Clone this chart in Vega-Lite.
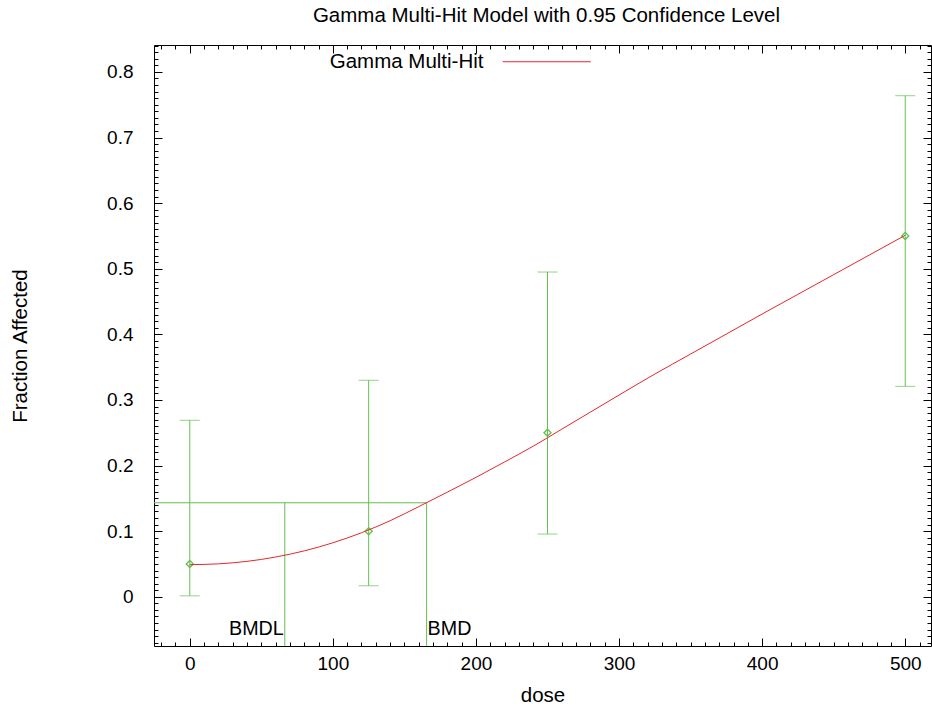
{
  "$schema": "https://vega.github.io/schema/vega-lite/v6.json",
  "width": 777,
  "height": 601,
  "autosize": {"type": "none"},
  "padding": {"left": 154, "top": 45, "right": 1, "bottom": 61},
  "background": "white",
  "config": {
    "view": {"stroke": "#000", "strokeWidth": 1},
    "font": "Liberation Sans",
    "axis": {"domain": false, "grid": false, "tickColor": "#000", "tickWidth": 1, "labelColor": "#000", "labelFont": "Liberation Sans", "labelFontSize": 19, "titleFont": "Liberation Sans", "titleFontSize": 20.5, "titleFontWeight": "normal", "titleColor": "#000", "labelFlush": false, "labelOverlap": false}
  },
  "datasets": {
    "obs": [
      {"dose": 0, "frac": 0.05, "lo": 0.0015, "hi": 0.269},
      {"dose": 125, "frac": 0.1, "lo": 0.0168, "hi": 0.330},
      {"dose": 250, "frac": 0.25, "lo": 0.0956, "hi": 0.495},
      {"dose": 500, "frac": 0.55, "lo": 0.3207, "hi": 0.7637}
    ],
    "curve": [
      {"dose": 0, "frac": 0.049, "series": "Gamma Multi-Hit"},
      {"dose": 20, "frac": 0.0502, "series": "Gamma Multi-Hit"},
      {"dose": 40, "frac": 0.054, "series": "Gamma Multi-Hit"},
      {"dose": 60, "frac": 0.0606, "series": "Gamma Multi-Hit"},
      {"dose": 80, "frac": 0.070, "series": "Gamma Multi-Hit"},
      {"dose": 100, "frac": 0.0823, "series": "Gamma Multi-Hit"},
      {"dose": 120, "frac": 0.0976, "series": "Gamma Multi-Hit"},
      {"dose": 140, "frac": 0.1159, "series": "Gamma Multi-Hit"},
      {"dose": 160, "frac": 0.1374, "series": "Gamma Multi-Hit"},
      {"dose": 180, "frac": 0.1595, "series": "Gamma Multi-Hit"},
      {"dose": 200, "frac": 0.182, "series": "Gamma Multi-Hit"},
      {"dose": 220, "frac": 0.2055, "series": "Gamma Multi-Hit"},
      {"dose": 240, "frac": 0.2295, "series": "Gamma Multi-Hit"},
      {"dose": 260, "frac": 0.2555, "series": "Gamma Multi-Hit"},
      {"dose": 280, "frac": 0.2815, "series": "Gamma Multi-Hit"},
      {"dose": 300, "frac": 0.3075, "series": "Gamma Multi-Hit"},
      {"dose": 325, "frac": 0.3395, "series": "Gamma Multi-Hit"},
      {"dose": 350, "frac": 0.370, "series": "Gamma Multi-Hit"},
      {"dose": 375, "frac": 0.4005, "series": "Gamma Multi-Hit"},
      {"dose": 400, "frac": 0.431, "series": "Gamma Multi-Hit"},
      {"dose": 425, "frac": 0.461, "series": "Gamma Multi-Hit"},
      {"dose": 450, "frac": 0.491, "series": "Gamma Multi-Hit"},
      {"dose": 475, "frac": 0.521, "series": "Gamma Multi-Hit"},
      {"dose": 500, "frac": 0.551, "series": "Gamma Multi-Hit"}
    ],
    "bmdline": [
      {"from": -25, "to": 165.5, "level": 0.1433}
    ],
    "bmd": [
      {"label": "BMDL", "dose": 66.4, "level": 0.1433},
      {"label": "BMD", "dose": 165.5, "level": 0.1433}
    ]
  },
  "layer": [
    {
      "data": {"name": "obs"},
      "mark": {"type": "rule", "color": "#62c050", "strokeWidth": 1},
      "encoding": {
        "x": {"field": "dose", "type": "quantitative", "scale": {"domain": [-25, 518], "nice": false, "zero": false},
              "axis": {"orient": "bottom", "values": [0, 100, 200, 300, 400, 500], "tickSize": -8, "labelPadding": 31, "labelBaseline": "alphabetic", "title": "dose", "titleY": 55, "titleBaseline": "alphabetic"}},
        "y": {"field": "lo", "type": "quantitative", "scale": {"domain": [-0.075, 0.841], "nice": false, "zero": false},
              "axis": {"orient": "left", "values": [0, 0.1, 0.2, 0.3, 0.4, 0.5, 0.6, 0.7, 0.8], "format": ".1~f", "tickSize": -8, "labelPadding": 29, "title": "Fraction Affected", "titleX": -134, "titleBaseline": "middle"}},
        "y2": {"field": "hi"}
      }
    },
    {
      "data": {"name": "obs"},
      "mark": {"type": "tick", "orient": "horizontal", "size": 20, "thickness": 1, "color": "#62c050"},
      "encoding": {
        "x": {"field": "dose", "type": "quantitative", "scale": {"domain": [-25, 518], "nice": false, "zero": false},
              "axis": {"orient": "bottom", "values": [-20,-10,0,10,20,30,40,50,60,70,80,90,100,110,120,130,140,150,160,170,180,190,200,210,220,230,240,250,260,270,280,290,300,310,320,330,340,350,360,370,380,390,400,410,420,430,440,450,460,470,480,490,500,510], "tickSize": -4, "labels": false, "title": null}},
        "y": {"field": "lo", "type": "quantitative", "scale": {"domain": [-0.075, 0.841], "nice": false, "zero": false},
              "axis": {"orient": "left", "values": [-0.07,-0.06,-0.05,-0.04,-0.03,-0.02,-0.01,0,0.01,0.02,0.03,0.04,0.05,0.06,0.07,0.08,0.09,0.1,0.11,0.12,0.13,0.14,0.15,0.16,0.17,0.18,0.19,0.2,0.21,0.22,0.23,0.24,0.25,0.26,0.27,0.28,0.29,0.3,0.31,0.32,0.33,0.34,0.35,0.36,0.37,0.38,0.39,0.4,0.41,0.42,0.43,0.44,0.45,0.46,0.47,0.48,0.49,0.5,0.51,0.52,0.53,0.54,0.55,0.56,0.57,0.58,0.59,0.6,0.61,0.62,0.63,0.64,0.65,0.66,0.67,0.68,0.69,0.7,0.71,0.72,0.73,0.74,0.75,0.76,0.77,0.78,0.79,0.8,0.81,0.82,0.83,0.84], "tickSize": -4, "labels": false, "title": null}}
      }
    },
    {
      "data": {"name": "obs"},
      "mark": {"type": "tick", "orient": "horizontal", "size": 20, "thickness": 1, "color": "#62c050"},
      "encoding": {
        "x": {"field": "dose", "type": "quantitative", "scale": {"domain": [-25, 518], "nice": false, "zero": false},
              "axis": {"orient": "top", "values": [0, 100, 200, 300, 400, 500], "tickSize": -8, "labels": false, "title": "Gamma Multi-Hit Model with 0.95 Confidence Level", "titleX": 392, "titleY": -24, "titleBaseline": "alphabetic", "titleAlign": "center", "titleFontSize": 20.5}},
        "y": {"field": "hi", "type": "quantitative", "scale": {"domain": [-0.075, 0.841], "nice": false, "zero": false},
              "axis": {"orient": "right", "values": [0, 0.1, 0.2, 0.3, 0.4, 0.5, 0.6, 0.7, 0.8], "tickSize": -8, "labels": false, "title": null}}
      }
    },
    {
      "data": {"name": "obs"},
      "mark": {"type": "point", "shape": "diamond", "filled": false, "size": 50, "strokeWidth": 1.3, "color": "#62c050", "opacity": 1},
      "encoding": {
        "x": {"field": "dose", "type": "quantitative", "scale": {"domain": [-25, 518], "nice": false, "zero": false},
              "axis": {"orient": "top", "values": [-20,-10,0,10,20,30,40,50,60,70,80,90,100,110,120,130,140,150,160,170,180,190,200,210,220,230,240,250,260,270,280,290,300,310,320,330,340,350,360,370,380,390,400,410,420,430,440,450,460,470,480,490,500,510], "tickSize": -4, "labels": false, "title": null}},
        "y": {"field": "frac", "type": "quantitative", "scale": {"domain": [-0.075, 0.841], "nice": false, "zero": false},
              "axis": {"orient": "right", "values": [-0.07,-0.06,-0.05,-0.04,-0.03,-0.02,-0.01,0,0.01,0.02,0.03,0.04,0.05,0.06,0.07,0.08,0.09,0.1,0.11,0.12,0.13,0.14,0.15,0.16,0.17,0.18,0.19,0.2,0.21,0.22,0.23,0.24,0.25,0.26,0.27,0.28,0.29,0.3,0.31,0.32,0.33,0.34,0.35,0.36,0.37,0.38,0.39,0.4,0.41,0.42,0.43,0.44,0.45,0.46,0.47,0.48,0.49,0.5,0.51,0.52,0.53,0.54,0.55,0.56,0.57,0.58,0.59,0.6,0.61,0.62,0.63,0.64,0.65,0.66,0.67,0.68,0.69,0.7,0.71,0.72,0.73,0.74,0.75,0.76,0.77,0.78,0.79,0.8,0.81,0.82,0.83,0.84], "tickSize": -4, "labels": false, "title": null}}
      }
    },
    {
      "data": {"name": "bmdline"},
      "mark": {"type": "rule", "color": "#62c050", "strokeWidth": 1},
      "encoding": {
        "x": {"field": "from", "type": "quantitative", "scale": {"domain": [-25, 518], "nice": false, "zero": false}, "axis": null},
        "x2": {"field": "to"},
        "y": {"field": "level", "type": "quantitative", "scale": {"domain": [-0.075, 0.841], "nice": false, "zero": false}, "axis": null}
      }
    },
    {
      "data": {"name": "bmd"},
      "mark": {"type": "rule", "color": "#62c050", "strokeWidth": 1},
      "encoding": {
        "x": {"field": "dose", "type": "quantitative", "scale": {"domain": [-25, 518], "nice": false, "zero": false}, "axis": null},
        "y": {"field": "level", "type": "quantitative", "scale": {"domain": [-0.075, 0.841], "nice": false, "zero": false}, "axis": null},
        "y2": {"datum": -0.075}
      }
    },
    {
      "data": {"name": "bmd"},
      "transform": [{"filter": "datum.label == 'BMDL'"}],
      "mark": {"type": "text", "align": "right", "baseline": "alphabetic", "dx": -1, "fontSize": 19.7, "font": "Liberation Sans", "color": "#000"},
      "encoding": {
        "x": {"field": "dose", "type": "quantitative", "scale": {"domain": [-25, 518], "nice": false, "zero": false}, "axis": null},
        "y": {"datum": -0.0587, "type": "quantitative", "scale": {"domain": [-0.075, 0.841], "nice": false, "zero": false}, "axis": null},
        "text": {"field": "label"}
      }
    },
    {
      "data": {"name": "bmd"},
      "transform": [{"filter": "datum.label == 'BMD'"}],
      "mark": {"type": "text", "align": "left", "baseline": "alphabetic", "dx": 1, "fontSize": 19.7, "font": "Liberation Sans", "color": "#000"},
      "encoding": {
        "x": {"field": "dose", "type": "quantitative", "scale": {"domain": [-25, 518], "nice": false, "zero": false}, "axis": null},
        "y": {"datum": -0.0587, "type": "quantitative", "scale": {"domain": [-0.075, 0.841], "nice": false, "zero": false}, "axis": null},
        "text": {"field": "label"}
      }
    },
    {
      "data": {"name": "curve"},
      "mark": {"type": "line", "strokeWidth": 1, "interpolate": "monotone"},
      "encoding": {
        "x": {"field": "dose", "type": "quantitative", "scale": {"domain": [-25, 518], "nice": false, "zero": false}, "axis": null},
        "y": {"field": "frac", "type": "quantitative", "scale": {"domain": [-0.075, 0.841], "nice": false, "zero": false}, "axis": null},
        "color": {"field": "series", "type": "nominal", "scale": {"domain": ["Gamma Multi-Hit"], "range": ["#e8262c"]},
                  "legend": {"orient": "none", "legendX": 382.5, "legendY": 6.5, "title": null, "symbolType": "M-5,0H5", "symbolSize": 310, "symbolStrokeWidth": 1, "labelAlign": "right", "labelOffset": -73.5, "labelFontSize": 20.5, "labelFont": "Liberation Sans", "labelColor": "#000", "padding": 0}}
      }
    }
  ],
  "resolve": {"axis": {"x": "independent", "y": "independent"}}
}
